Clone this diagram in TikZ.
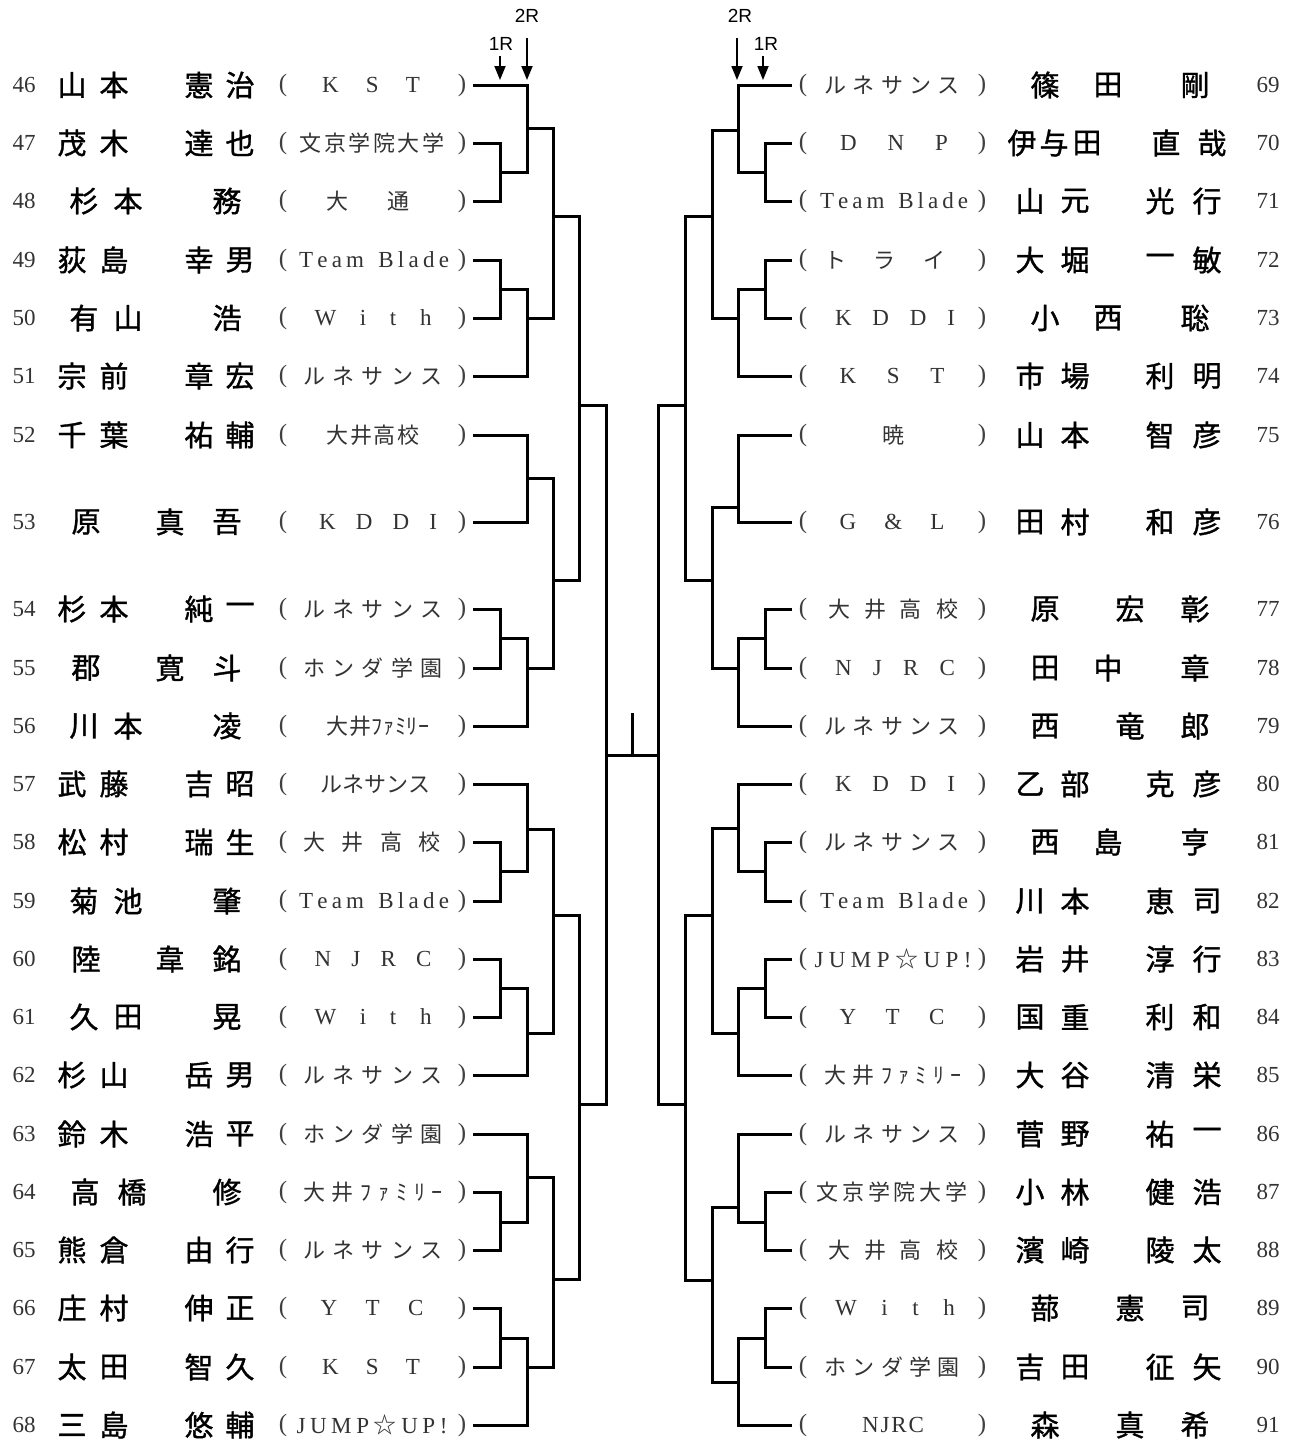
\documentclass[tikz,border=0pt]{standalone}
\usepackage{fontspec}
\setmainfont{Liberation Serif}
\newfontfamily\cjk{Noto Sans CJK JP}
\newfontfamily\cjkb{Noto Sans CJK JP}[FakeBold=1.2]
\newfontfamily\arialf{Liberation Sans}
\usetikzlibrary{arrows.meta}
\newdimen\pxu \pxu=0.5pt
\def\sprstop{sprstopmarker}
\def\spr#1{#1\sprb}
\def\sprb#1{\ifx\sprstop#1\else\hfill#1\expandafter\sprb\fi}
\newcommand\spreadbox[2]{\hbox to #1\pxu{\spr#2\sprstop}}
\newcommand\wst{{\cjk ☆}}
\newcommand\cl[2]{{\fontsize{11.5}{12}\selectfont\color{black!80}\spreadbox{#1}{#2}}}
\newcommand\cj[2]{{\cjk\fontsize{11}{12}\selectfont\color{black!80}\spreadbox{#1}{#2}}}
\tikzset{
  br/.style={line width=1.5pt},
  nm/.style={font=\cjkb\fontsize{14.5}{15}\selectfont, inner sep=0pt},
  num/.style={font=\fontsize{11.5}{12}\selectfont, text=black!80, inner sep=0pt},
  prn/.style={font=\fontsize{12.5}{12}\selectfont, text=black!75, inner sep=0pt},
  club/.style={inner sep=0pt},
  rlab/.style={font=\arialf\fontsize{9.5}{10}\selectfont, inner sep=0pt},
  arr/.style={line width=0.9pt, -{Triangle[length=7pt,width=5.5pt]}},
}
% left row: #1 number, #2 y, #3 x/char list, #4 club x, #5 club content
\newcommand\rowL[5]{%
  \node[num] (num#1) at (24,#2) {#1};
  \foreach \xx/\cc [count=\ii] in {#3} \node[nm] (nm#1-\ii) at (\xx,#2) {\cc};
  \node[prn] (po#1) at (283,#2) {(};
  \node[prn] (pc#1) at (462,#2) {)};
  \node[club] (cl#1) at (#4,#2) {#5};
  \coordinate (L#1) at (473,#2);
}
\newcommand\rowR[5]{%
  \node[num] (num#1) at (1268,#2) {#1};
  \foreach \xx/\cc [count=\ii] in {#3} \node[nm] (nm#1-\ii) at (\xx,#2) {\cc};
  \node[prn] (po#1) at (803,#2) {(};
  \node[prn] (pc#1) at (982,#2) {)};
  \node[club] (cl#1) at (#4,#2) {#5};
  \coordinate (R#1) at (792,#2);
}
\begin{document}
\begin{tikzpicture}[x=0.5pt,y=-0.5pt]
\fill[white] (0,0) rectangle (1290,1441);
\useasboundingbox (0,0) rectangle (1290,1441);
% ---------- left side ----------
\rowL{46}{85}{72/山,114/本,199/憲,240/治}{371}{\cl{98}{KST}}
\rowL{47}{143}{72/茂,114/木,199/達,240/也}{372}{\cj{145}{文京学院大学}}
\rowL{48}{201}{84/杉,128/本,227/務}{368}{\cj{83}{大通}}
\rowL{49}{260}{72/荻,114/島,199/幸,240/男}{374}{\cl{150}{Team~Blade}}
\rowL{50}{318}{84/有,128/山,227/浩}{373}{\cl{117}{With}}
\rowL{51}{376}{72/宗,114/前,199/章,240/宏}{373}{\cj{140}{ルネサンス}}
\rowL{52}{435}{72/千,114/葉,199/祐,240/輔}{373}{\cj{93}{大井高校}}
\rowL{53}{522}{86/原,170/真,227/吾}{378}{\cl{118}{KDDI}}
\rowL{54}{609}{72/杉,114/本,199/純,240/一}{373}{\cj{140}{ルネサンス}}
\rowL{55}{668}{86/郡,170/寛,227/斗}{373}{\cj{140}{ホンダ学園}}
\rowL{56}{726}{84/川,128/本,227/凌}{378}{\cj{103}{大井ﾌｧﾐﾘｰ}}
\rowL{57}{784}{72/武,114/藤,199/吉,240/昭}{374}{\cj{108}{ルネサンス}}
\rowL{58}{842}{72/松,114/村,199/瑞,240/生}{372}{\cj{137}{大井高校}}
\rowL{59}{901}{84/菊,128/池,227/肇}{374}{\cl{150}{Team~Blade}}
\rowL{60}{959}{86/陸,170/韋,227/銘}{373}{\cl{117}{NJRC}}
\rowL{61}{1017}{84/久,128/田,227/晃}{373}{\cl{117}{With}}
\rowL{62}{1075}{72/杉,114/山,199/岳,240/男}{373}{\cj{140}{ルネサンス}}
\rowL{63}{1134}{72/鈴,114/木,199/浩,240/平}{373}{\cj{140}{ホンダ学園}}
\rowL{64}{1192}{85/高,132/橋,227/修}{373}{\cj{140}{大井ﾌｧﾐﾘｰ}}
\rowL{65}{1250}{72/熊,114/倉,199/由,240/行}{373}{\cj{140}{ルネサンス}}
\rowL{66}{1308}{72/庄,114/村,199/伸,240/正}{372}{\cl{103}{YTC}}
\rowL{67}{1367}{72/太,114/田,199/智,240/久}{371}{\cl{98}{KST}}
\rowL{68}{1425}{72/三,114/島,199/悠,240/輔}{372}{\cl{151}{JUMP\wst UP!}}
% ---------- right side ----------
\rowR{69}{85}{1045/篠,1108/田,1195/剛}{892}{\cj{135}{ルネサンス}}
\rowR{70}{143}{1022/伊,1054/与,1087/田,1166/直,1212/哉}{894}{\cl{108}{DNP}}
\rowR{71}{201}{1030/山,1075/元,1160/光,1207/行}{894}{\cl{148}{Team~Blade}}
\rowR{72}{260}{1030/大,1075/堀,1160/一,1207/敏}{885}{\cj{122}{トライ}}
\rowR{73}{318}{1045/小,1108/西,1195/聡}{895}{\cl{120}{KDDI}}
\rowR{74}{376}{1030/市,1075/場,1160/利,1207/明}{892}{\cl{105}{KST}}
\rowR{75}{435}{1030/山,1075/本,1160/智,1207/彦}{893}{\cj{22}{暁}}
\rowR{76}{522}{1030/田,1075/村,1160/和,1207/彦}{892}{\cl{105}{G\&L}}
\rowR{77}{609}{1045/原,1130/宏,1195/彰}{893}{\cj{130}{大井高校}}
\rowR{78}{668}{1045/田,1108/中,1195/章}{895}{\cl{120}{NJRC}}
\rowR{79}{726}{1045/西,1130/竜,1195/郎}{892}{\cj{135}{ルネサンス}}
\rowR{80}{784}{1030/乙,1075/部,1160/克,1207/彦}{895}{\cl{120}{KDDI}}
\rowR{81}{842}{1045/西,1108/島,1195/亨}{892}{\cj{135}{ルネサンス}}
\rowR{82}{901}{1030/川,1075/本,1160/恵,1207/司}{894}{\cl{148}{Team~Blade}}
\rowR{83}{959}{1030/岩,1075/井,1160/淳,1207/行}{893}{\cl{157}{JUMP\wst UP!}}
\rowR{84}{1017}{1030/国,1075/重,1160/利,1207/和}{892}{\cl{105}{YTC}}
\rowR{85}{1075}{1030/大,1075/谷,1160/清,1207/栄}{893}{\cj{137}{大井ﾌｧﾐﾘｰ}}
\rowR{86}{1134}{1030/菅,1075/野,1160/祐,1207/一}{892}{\cj{135}{ルネサンス}}
\rowR{87}{1192}{1030/小,1075/林,1160/健,1207/浩}{892}{\cj{151}{文京学院大学}}
\rowR{88}{1250}{1030/濱,1075/崎,1160/陵,1207/太}{893}{\cj{130}{大井高校}}
\rowR{89}{1308}{1045/蔀,1130/憲,1195/司}{895}{\cl{120}{With}}
\rowR{90}{1367}{1030/吉,1075/田,1160/征,1207/矢}{892}{\cj{135}{ホンダ学園}}
\rowR{91}{1425}{1045/森,1130/真,1195/希}{893}{\cl{62}{NJRC}}
% ---------- left bracket ----------
\coordinate (a1) at (500,172); \draw[br] (L47) -| (a1) |- (L48);
\coordinate (a2) at (527,128); \draw[br] (L46) -| (a2) |- (a1);
\coordinate (b1) at (500,289); \draw[br] (L49) -| (b1) |- (L50);
\coordinate (b2) at (527,318); \draw[br] (b1) -| (b2) |- (L51);
\coordinate (c3) at (553,216); \draw[br] (a2) -| (c3) |- (b2);
\coordinate (d2) at (527,478); \draw[br] (L52) -| (d2) |- (L53);
\coordinate (e1) at (500,638); \draw[br] (L54) -| (e1) |- (L55);
\coordinate (e2) at (527,668); \draw[br] (e1) -| (e2) |- (L56);
\coordinate (f3) at (553,580); \draw[br] (d2) -| (f3) |- (e2);
\coordinate (g4) at (579,405); \draw[br] (c3) -| (g4) |- (f3);
\coordinate (h1) at (500,871); \draw[br] (L58) -| (h1) |- (L59);
\coordinate (h2) at (527,829); \draw[br] (L57) -| (h2) |- (h1);
\coordinate (i1) at (500,988); \draw[br] (L60) -| (i1) |- (L61);
\coordinate (i2) at (527,1033); \draw[br] (i1) -| (i2) |- (L62);
\coordinate (j3) at (553,915); \draw[br] (h2) -| (j3) |- (i2);
\coordinate (k1) at (500,1222); \draw[br] (L64) -| (k1) |- (L65);
\coordinate (k2) at (527,1177); \draw[br] (L63) -| (k2) |- (k1);
\coordinate (l1) at (500,1338); \draw[br] (L66) -| (l1) |- (L67);
\coordinate (l2) at (527,1367); \draw[br] (l1) -| (l2) |- (L68);
\coordinate (m3) at (553,1279); \draw[br] (k2) -| (m3) |- (l2);
\coordinate (n4) at (579,1104); \draw[br] (j3) -| (n4) |- (m3);
\coordinate (fL) at (606,755); \draw[br] (g4) -| (fL) |- (n4);
% ---------- right bracket ----------
\coordinate (A1) at (765,172); \draw[br] (R70) -| (A1) |- (R71);
\coordinate (A2) at (738,130); \draw[br] (R69) -| (A2) |- (A1);
\coordinate (B1) at (765,289); \draw[br] (R72) -| (B1) |- (R73);
\coordinate (B2) at (738,318); \draw[br] (B1) -| (B2) |- (R74);
\coordinate (C3) at (712,216); \draw[br] (A2) -| (C3) |- (B2);
\coordinate (D2) at (738,507); \draw[br] (R75) -| (D2) |- (R76);
\coordinate (E1) at (765,638); \draw[br] (R77) -| (E1) |- (R78);
\coordinate (E2) at (738,668); \draw[br] (E1) -| (E2) |- (R79);
\coordinate (F3) at (712,580); \draw[br] (D2) -| (F3) |- (E2);
\coordinate (G4) at (685,405); \draw[br] (C3) -| (G4) |- (F3);
\coordinate (H1) at (765,871); \draw[br] (R81) -| (H1) |- (R82);
\coordinate (H2) at (738,828); \draw[br] (R80) -| (H2) |- (H1);
\coordinate (I1) at (765,988); \draw[br] (R83) -| (I1) |- (R84);
\coordinate (I2) at (738,1033); \draw[br] (I1) -| (I2) |- (R85);
\coordinate (J3) at (712,915); \draw[br] (H2) -| (J3) |- (I2);
\coordinate (K1) at (765,1222); \draw[br] (R87) -| (K1) |- (R88);
\coordinate (K2) at (738,1207); \draw[br] (R86) -| (K2) |- (K1);
\coordinate (M1) at (765,1338); \draw[br] (R89) -| (M1) |- (R90);
\coordinate (M2) at (738,1382); \draw[br] (M1) -| (M2) |- (R91);
\coordinate (M3) at (712,1280); \draw[br] (K2) -| (M3) |- (M2);
\coordinate (N4) at (685,1104); \draw[br] (J3) -| (N4) |- (M3);
\coordinate (fR) at (658,755); \draw[br] (G4) -| (fR) |- (N4);
% ---------- final ----------
\draw[br] (fL) -- (fR);
\coordinate (stubT) at (632,713); \coordinate (stubB) at (632,755);
\draw[br] (stubT) -- (stubB);
% ---------- round markers ----------
\node[rlab] (t2L) at (527,16) {2R};
\node[rlab] (t1L) at (501,44) {1R};
\node[rlab] (t2R) at (740,16) {2R};
\node[rlab] (t1R) at (766,44) {1R};
\coordinate (s2L) at (527,38); \coordinate (e2L) at (527,80);
\coordinate (s1L) at (500,56); \coordinate (e1L) at (500,80);
\coordinate (s2R) at (737,38); \coordinate (e2R) at (737,80);
\coordinate (s1R) at (763,56); \coordinate (e1R) at (763,80);
\draw[arr] (s2L) -- (e2L);
\draw[arr] (s1L) -- (e1L);
\draw[arr] (s2R) -- (e2R);
\draw[arr] (s1R) -- (e1R);
\end{tikzpicture}
\end{document}
